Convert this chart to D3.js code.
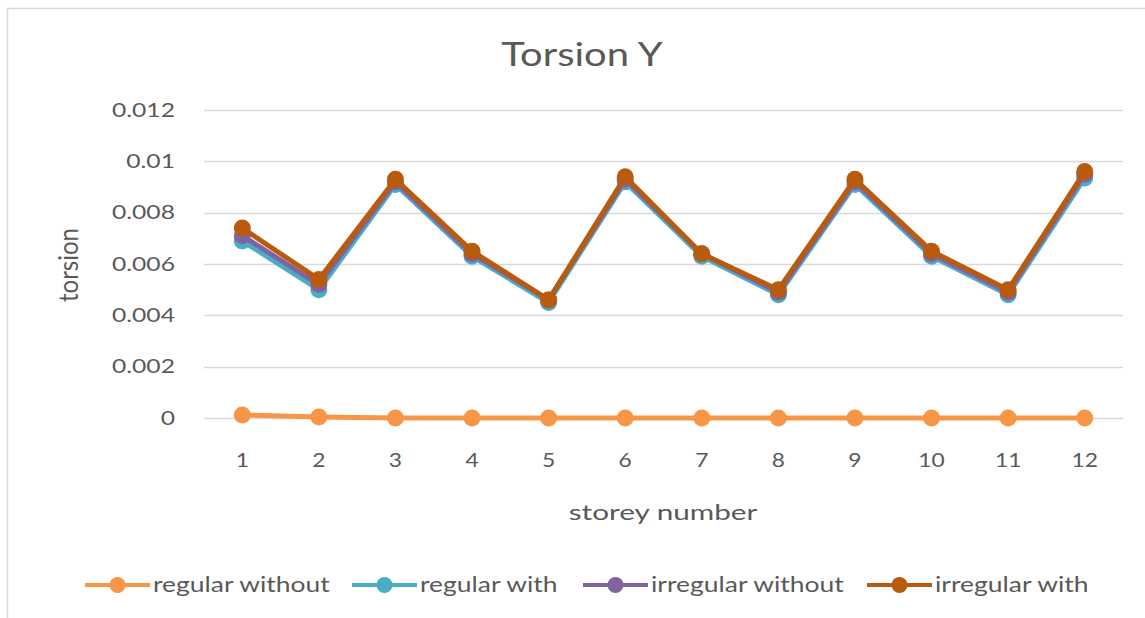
<!DOCTYPE html>
<html>
<head>
<meta charset="utf-8">
<script src="https://cdn.jsdelivr.net/npm/d3@7/dist/d3.min.js"></script>
<style>
html,body{margin:0;padding:0;background:#fff;}
svg{display:block;font-family:Lato,"Open Sans",sans-serif;}
</style>
</head>
<body>
<svg id="chart" width="1145" height="618"></svg>
<script>
const storeys = ["1","2","3","4","5","6","7","8","9","10","11","12"];
const yTicks = [0, 0.002, 0.004, 0.006, 0.008, 0.01, 0.012];
const yTickLabels = ["0","0.002","0.004","0.006","0.008","0.01","0.012"];
const seriesNames = ["regular without","regular with","irregular without","irregular with"];
const seriesColors = ["#F79646","#4BACC6","#8064A2","#B85B0F"];
const regularWithout   = [0.00012,0.00004,0,0,0,0,0,0,0,0,0,0];
const regularWith      = [0.0069,0.0050,0.0091,0.0063,0.0045,0.0092,0.0063,0.0048,0.0091,0.0063,0.0048,0.00935];
const irregularWithout = [0.0071,0.0052,0.0092,0.0064,0.0046,0.0093,0.0064,0.0049,0.0092,0.0064,0.0049,0.0095];
const irregularWith    = [0.0074,0.0054,0.0093,0.0065,0.0046,0.0094,0.0064,0.0050,0.0093,0.0065,0.0050,0.0096];
const seriesValues = [regularWithout, regularWith, irregularWithout, irregularWith];

const svg = d3.select("#chart");
const W = 1145, H = 618;
const TXT = "#595959";

function stretchedText(x, y, sx, size, anchor, str) {
  const g = svg.append("g").attr("transform", `translate(${x},${y}) scale(${sx},1)`);
  g.append("text").attr("text-anchor", anchor).attr("fill", TXT)
    .style("font-size", size + "px").text(str);
  return g;
}

// outer chart border
svg.append("path")
  .attr("d", `M7.5,${H} L7.5,8.5 L${W},8.5`)
  .attr("fill","none").attr("stroke","#D9D9D9").attr("stroke-width",1.5);

const plot = {left:204, right:1123, top:110, bottom:418};
const x = d3.scaleBand().domain(storeys).range([plot.left, plot.right]);
const y = d3.scaleLinear().domain([0,0.012]).range([plot.bottom, plot.top]);
const cx = d => x(d) + x.bandwidth()/2;

// gridlines
svg.append("g").selectAll("line").data(yTicks).join("line")
  .attr("x1", plot.left).attr("x2", plot.right)
  .attr("y1", d => Math.round(y(d))+0.5).attr("y2", d => Math.round(y(d))+0.5)
  .attr("stroke","#D9D9D9").attr("stroke-width",1.3);

// y axis labels
const yAxis = d3.axisLeft(y).tickValues(yTicks).tickSize(0).tickPadding(0)
  .tickFormat((d,i) => yTickLabels[i]);
const gy = svg.append("g").attr("transform","translate(175,0)").call(yAxis);
gy.select(".domain").remove();
gy.selectAll("text").attr("fill",TXT).style("font-size","19px")
  .style("font-family","Lato,'Open Sans',sans-serif")
  .attr("transform","scale(1.3,1)");

// x axis labels
const xAxis = d3.axisBottom(x).tickSize(0).tickPadding(0);
const gx = svg.append("g").attr("transform",`translate(0,${plot.bottom+36})`).call(xAxis);
gx.select(".domain").remove();
gx.selectAll("text").attr("fill",TXT).style("font-size","19px")
  .style("font-family","Lato,'Open Sans',sans-serif")
  .attr("transform","scale(1.2,1)");

// title
stretchedText(582, 66, 1.25, 32, "middle", "Torsion Y");

// axis titles
stretchedText(663, 520, 1.35, 22, "middle", "storey number");
svg.append("g").attr("transform","translate(78,265) rotate(-90) scale(1,1.15)")
  .append("text").attr("text-anchor","middle").attr("fill",TXT)
  .style("font-size","24px").text("torsion");

// series
const line = d3.line().x((d,i) => cx(storeys[i])).y(d => y(d));
seriesValues.forEach((vals, si) => {
  const g = svg.append("g");
  g.append("path").datum(vals).attr("d", line)
    .attr("fill","none").attr("stroke",seriesColors[si]).attr("stroke-width",5)
    .attr("stroke-linejoin","round");
  g.selectAll("circle").data(vals).join("circle")
    .attr("cx",(d,i) => cx(storeys[i])).attr("cy", d => y(d)).attr("r",8.5)
    .attr("fill",seriesColors[si]);
});

// legend
const legendX = [85, 352, 583, 867];
const legendY = 585;
seriesNames.forEach((name, i) => {
  const g = svg.append("g").attr("transform",`translate(${legendX[i]},${legendY})`);
  g.append("line").attr("x1",0).attr("x2",65).attr("y1",0).attr("y2",0)
    .attr("stroke",seriesColors[i]).attr("stroke-width",4);
  g.append("circle").attr("cx",32.5).attr("cy",0).attr("r",8).attr("fill",seriesColors[i]);
  g.append("g").attr("transform","translate(68,7) scale(1.26,1)")
    .append("text").attr("fill",TXT).style("font-size","21px").text(name);
});
</script>
</body>
</html>
